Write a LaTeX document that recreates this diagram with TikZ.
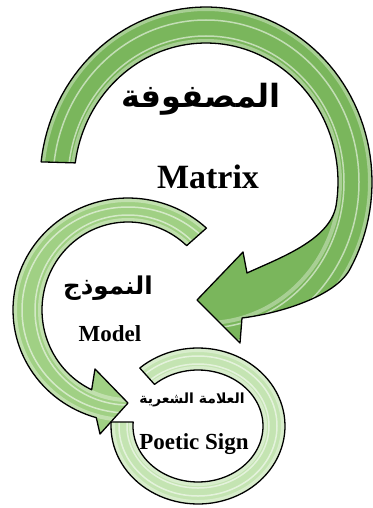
\documentclass[tikz,border=0pt]{standalone}
\usepackage{fontspec}
\setmainfont{Liberation Serif}
\newfontfamily\arabicfont[Script=Arabic]{DejaVu Sans}
\TeXXeTstate=1
\usepackage{xcolor}
\definecolor{bigfill}{RGB}{122,182,92}
\definecolor{midfill}{RGB}{160,208,132}
\definecolor{smallfill}{RGB}{196,228,178}

\begin{document}
\begin{tikzpicture}[x=1pt, y=-1pt,
    ring/.style={draw=black, line width=1.3pt, line join=round},
    bigring/.style={ring, fill=bigfill},
    midring/.style={ring, fill=midfill},
    smallring/.style={ring, fill=smallfill},
    rim/.style={white, opacity=0.35, line width=4pt},
    gloss/.style={white, opacity=0.55, line width=1.5pt},
    arlabel/.style={inner sep=0pt, font=\arabicfont\bfseries},
    enlabel/.style={inner sep=0pt, anchor=base, font=\bfseries}
]
\useasboundingbox (0,0) rectangle (372,508);

% Matrix arrow (top)
\draw[bigring, path picture={
    \draw[rim] (206,182) ellipse [x radius=164, y radius=173];
    \draw[rim] (206,182) ellipse [x radius=134, y radius=141];
    \draw[gloss] (206,182) ellipse [x radius=153, y radius=162];
    \draw[gloss] (206,182) ellipse [x radius=138, y radius=146];
  }]
  plot[domain=186.6:390, samples=80, variable=\t] ({206+166*cos(\t)}, {182+175*sin(\t)})
  .. controls (335.4,295.8) and (282,313) .. (242,318)
  -- (240,343) -- (197,300) -- (243,252) -- (247,273)
  .. controls (278.7,258.3) and (329.3,240.5) .. (336,206.1)
  -- plot[domain=370:187.9, samples=80, variable=\t] ({206+132*cos(\t)}, {182+139*sin(\t)})
  -- cycle;

% Model arrow (middle)
\draw[midring, path picture={
    \draw[rim] (128,310) ellipse [x radius=113, y radius=110];
    \draw[rim] (128,310) ellipse [x radius=88, y radius=90];
    \draw[gloss] (128,310) ellipse [x radius=106, y radius=103];
    \draw[gloss] (128,310) ellipse [x radius=93, y radius=95];
  }]
  plot[domain=-47:-254, samples=80, variable=\t] ({128+115*cos(\t)}, {310+112*sin(\t)})
  -- (100,434) -- (128,403) -- (95,369)
  -- plot[domain=-245:-47, samples=80, variable=\t] ({128+86*cos(\t)}, {310+88*sin(\t)})
  -- cycle;

% Poetic sign ring (bottom)
\draw[smallring, path picture={
    \draw[rim] (198,426) ellipse [x radius=85, y radius=76];
    \draw[rim] (198,426) ellipse [x radius=67, y radius=58];
    \draw[gloss] (198,426) ellipse [x radius=79, y radius=70];
    \draw[gloss] (198,426) ellipse [x radius=71, y radius=62];
  }]
  plot[domain=228:543, samples=90, variable=\t] ({198+87*cos(\t)}, {426+78*sin(\t)})
  -- plot[domain=544:228, samples=90, variable=\t] ({198+65*cos(\t)}, {426+56*sin(\t)})
  -- cycle;

% labels
\node[arlabel, font=\arabicfont\bfseries\fontsize{32}{38}\selectfont] (matrixar) at (201,99) {\beginR المصفوفة\endR};
\node[enlabel, font=\bfseries\fontsize{34}{40}\selectfont] (matrixen) at (208,188) {Matrix};
\node[arlabel, font=\arabicfont\bfseries\fontsize{24.5}{30}\selectfont] (modelar) at (108,288) {\beginR النموذج\endR};
\node[enlabel, font=\bfseries\fontsize{23}{28}\selectfont] (modelen) at (110,341) {Model};
\node[arlabel, font=\arabicfont\bfseries\fontsize{14}{17}\selectfont] (signar) at (192,400) {\beginR العلامة الشعرية\endR};
\node[enlabel, font=\bfseries\fontsize{23}{28}\selectfont] (signen) at (194,449) {Poetic Sign};

\end{tikzpicture}
\end{document}
